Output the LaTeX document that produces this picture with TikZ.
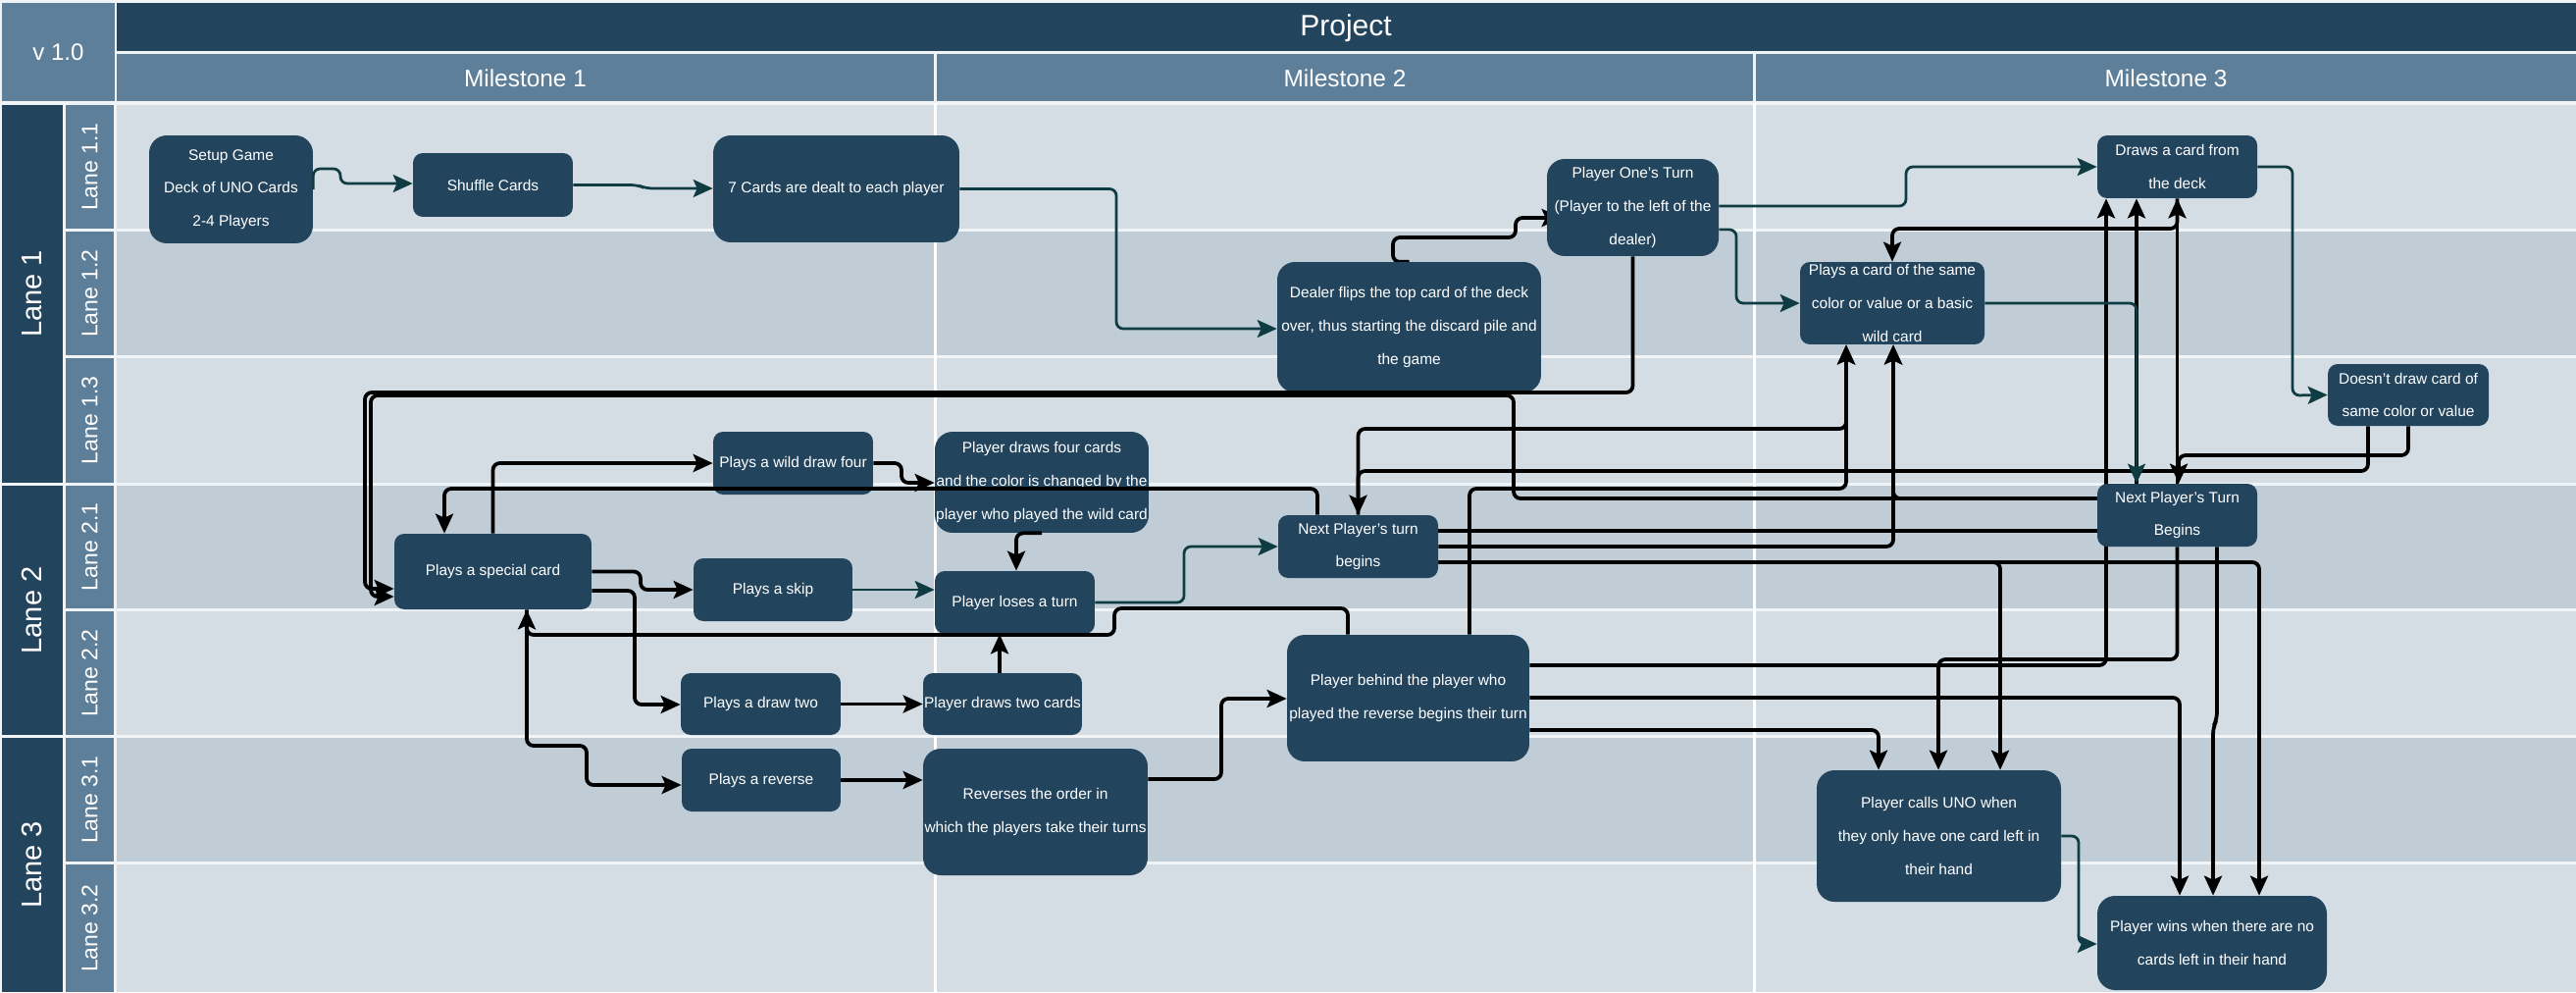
\documentclass[tikz,border=0pt]{standalone}
\usepackage{fontspec}
\setmainfont{Liberation Sans}
\usetikzlibrary{arrows.meta,math}
\pgfdeclarelayer{lanes}
\pgfdeclarelayer{under}
\pgfsetlayers{lanes,under,main}
\definecolor{navy}{HTML}{23445D}
\definecolor{steel}{HTML}{5D7F99}
\definecolor{lanea}{HTML}{D5DDE4}
\definecolor{laneb}{HTML}{C0CDD7}
\definecolor{gap}{HTML}{F1F4F6}
\definecolor{pine}{HTML}{0F3B42}

\begin{document}
\begin{tikzpicture}[x=0.02cm,y=-0.02cm,
    card/.style={fill=navy, text=white, rounded corners=0.2cm, align=center, inner sep=0pt, font=\fontsize{8.8}{19.1}\selectfont},
    big/.style={rounded corners=0.36cm},
    flow/.style={draw=pine, line width=0.055cm, rounded corners=0.14cm, -{Stealth[length=0.4cm,width=0.36cm,inset=0.08cm]}},
    link/.style={draw=black, line width=0.075cm, rounded corners=0.14cm, -{Stealth[length=0.4cm,width=0.36cm,inset=0.08cm]}},
    bare/.style={draw=black, line width=0.075cm, rounded corners=0.14cm},
    lanehead/.style={text=white, rotate=90, font=\fontsize{16.5}{18}\selectfont},
    subhead/.style={text=white, rotate=90, font=\fontsize{13.1}{15}\selectfont}]
  \useasboundingbox (0,0) rectangle (2626,1011);
  \begin{pgfonlayer}{lanes}
    \fill[gap] (0,0) rectangle (2626,1011);
    \fill[steel] (2,3) rectangle (117,103);
    \fill[navy] (119,3) rectangle (2626,52);
    \fill[steel] (119,55) rectangle (952,103);
    \fill[steel] (955,55) rectangle (1787,103);
    \fill[steel] (1790,55) rectangle (2626,103);
    \fill[navy] (2,107) rectangle (64,492);
    \fill[navy] (2,495) rectangle (64,749);
    \fill[navy] (2,752) rectangle (64,1011);
    \fill[steel] (67,107) rectangle (116,233);
    \fill[steel] (67,236) rectangle (116,362);
    \fill[steel] (67,365) rectangle (116,492);
    \fill[steel] (67,495) rectangle (116,620);
    \fill[steel] (67,623) rectangle (116,749);
    \fill[steel] (67,752) rectangle (116,878);
    \fill[steel] (67,881) rectangle (116,1011);
    \fill[lanea] (119,107) rectangle (2626,233);
    \fill[laneb] (119,236) rectangle (2626,362);
    \fill[lanea] (119,365) rectangle (2626,492);
    \fill[laneb] (119,495) rectangle (2626,620);
    \fill[lanea] (119,623) rectangle (2626,749);
    \fill[laneb] (119,752) rectangle (2626,878);
    \fill[lanea] (119,881) rectangle (2626,1011);
    \draw[white, line width=0.045cm] (953.5,105) -- (953.5,1011);
    \draw[white, line width=0.045cm] (1788.5,105) -- (1788.5,1011);
  \end{pgfonlayer}

  \node[text=white, font=\fontsize{13.7}{16}\selectfont] (ver) at (59.5,53) {v 1.0};
  \node[text=white, font=\fontsize{17.1}{20}\selectfont] (proj) at (1372,29) {Project};
  \node[text=white, font=\fontsize{13.9}{16}\selectfont] (ms1) at (535.5,80) {Milestone 1};
  \node[text=white, font=\fontsize{13.9}{16}\selectfont] (ms2) at (1371,80) {Milestone 2};
  \node[text=white, font=\fontsize{13.9}{16}\selectfont] (ms3) at (2208,80) {Milestone 3};
  \node[lanehead] (lane1) at (33,299.5) {Lane 1};
  \node[lanehead] (lane2) at (33,622) {Lane 2};
  \node[lanehead] (lane3) at (33,881.5) {Lane 3};
  \node[subhead] (lane11) at (91.5,170) {Lane 1.1};
  \node[subhead] (lane12) at (91.5,299) {Lane 1.2};
  \node[subhead] (lane13) at (91.5,428.5) {Lane 1.3};
  \node[subhead] (lane21) at (91.5,557.5) {Lane 2.1};
  \node[subhead] (lane22) at (91.5,686) {Lane 2.2};
  \node[subhead] (lane31) at (91.5,815) {Lane 3.1};
  \node[subhead] (lane32) at (91.5,946) {Lane 3.2};

  \node[card, big, minimum width=3.34cm, minimum height=2.2cm] (setup) at (235.5,193) {Setup Game\\Deck of UNO Cards\\2-4 Players};
  \node[card, minimum width=3.26cm, minimum height=1.3cm] (shuffle) at (502.5,188.5) {Shuffle Cards};
  \node[card, big, minimum width=5.02cm, minimum height=2.18cm] (deal) at (852.5,192.5) {7 Cards are dealt to each player};
  \node[card, big, minimum width=5.38cm, minimum height=2.66cm] (flip) at (1436.5,333.5) {Dealer flips the top card of the deck\\over, thus starting the discard pile and\\the game};
  \node[card, big, minimum width=3.5cm, minimum height=1.98cm] (one) at (1664.5,211.5) {Player One's Turn\\(Player to the left of the\\dealer)};
  \node[card, minimum width=3.26cm, minimum height=1.28cm] (draw) at (2219.5,170) {Draws a card from\\the deck};
  \node[card, minimum width=3.76cm, minimum height=1.68cm] (match) at (1929,309) {Plays a card of the same\\color or value or a basic\\wild card};
  \node[card, minimum width=3.28cm, minimum height=1.26cm] (nodraw) at (2455,402.5) {Doesn't draw card of\\same color or value};
  \node[card, minimum width=3.26cm, minimum height=1.28cm] (nextc) at (2219.5,525) {Next Player's Turn\\Begins};
  \node[card, big, minimum width=4.98cm, minimum height=2.68cm] (uno) at (1976.5,852) {Player calls UNO when\\they only have one card left in\\their hand};
  \node[card, big, minimum width=4.68cm, minimum height=1.92cm] (win) at (2255,961) {Player wins when there are no\\cards left in their hand};
  \node[card, minimum width=4.02cm, minimum height=1.54cm] (special) at (502.5,582.5) {Plays a special card};
  \node[card, minimum width=3.26cm, minimum height=1.28cm] (wild) at (808.5,472) {Plays a wild draw four};
  \node[card, big, minimum width=4.36cm, minimum height=2.06cm] (four) at (1062,491.5) {Player draws four cards\\and the color is changed by the\\player who played the wild card};
  \node[card, minimum width=3.24cm, minimum height=1.28cm] (skip) at (788,601) {Plays a skip};
  \node[card, minimum width=3.26cm, minimum height=1.28cm] (lose) at (1034.5,614) {Player loses a turn};
  \node[card, minimum width=3.26cm, minimum height=1.26cm] (drawtwo) at (775.5,717.5) {Plays a draw two};
  \node[card, minimum width=3.24cm, minimum height=1.26cm] (two) at (1022,717.5) {Player draws two cards};
  \node[card, minimum width=3.24cm, minimum height=1.28cm] (reverse) at (776,795) {Plays a reverse};
  \node[card, big, minimum width=4.58cm, minimum height=2.58cm] (order) at (1055.5,827.5) {Reverses the order in\\which the players take their turns};
  \node[card, minimum width=3.26cm, minimum height=1.28cm] (nextb) at (1384.5,557) {Next Player's turn\\begins};
  \node[card, big, minimum width=4.94cm, minimum height=2.58cm] (behind) at (1435.5,711.5) {Player behind the player who\\played the reverse begins their turn};

  \begin{pgfonlayer}{under}
    \draw[link] (behind.east |- 0,678) -| (draw.south -| 2147,0);
    \draw[link, shorten >=-0.3cm] (flip.north) -- (1420,267) |- (1545,242) |- (one.west |- 0,222);
  \end{pgfonlayer}

  \draw[flow] (setup.east) |- (347,172) |- (shuffle.west |- 0,187);
  \draw[flow] (shuffle.east) -- (650,188.5) -- (658,192) -- (deal.west |- 0,192);
  \draw[flow] (deal.east) -| (1138,335) -- (flip.west |- 0,335);
  \draw[flow] (one.east |- 0,210) -| (1943,170) -- (draw.west);
  \draw[flow] (one.east |- 0,234) -| (1770,309) -- (match.west);
  \draw[flow] (draw.east) -| (2337,403) -- (nodraw.west);

  \draw[link] (nextc.north -| 2178,0) -- (draw.south -| 2178,0);
  \draw[link] (nextc.north) -- (draw.south);
  \draw[link] (draw.south) |- (1929,233) -- (match.north);
  \draw[link] (nodraw.south) |- (2221,464) -- (nextc.north -| 2221,0);
  \draw[link] (nodraw.south -| 2414,0) |- (nextb.north |- 0,480) -- (nextb.north);
  \draw[link] (nextb.north) |- (1882,437) -- (match.south -| 1882,0);
  \draw[link] (behind.north -| 1498,0) |- (1882,498) -- (match.south -| 1882,0);
  \draw[link] (nextb.east |- 0,557) -| (match.south -| 1930,0);
  \draw[link] (nextc.west |- 0,508) -| (match.south -| 1930,0);
  \draw[bare] (nextb.east |- 0,541) -- (nextc.west |- 0,541);
  \draw[link] (nextc.west |- 0,508) -| (1543,403) -| (378,608) -- (special.west |- 0,608);
  \draw[link] (one.south) |- (372,400) |- (special.west |- 0,600);
  \draw[link] (nextb.north -| 1343,0) |- (453,498) -- (special.north -| 453,0);
  \draw[link] (special.north) |- (wild.west);
  \draw[link] (wild.east) -| (919,492) -- (four.west |- 0,492);
  \draw[link] (four.south) -| (lose.north -| 1036,0);
  \draw[link] (special.east) -| (653,601) -- (skip.west);
  \draw[link] (special.east |- 0,602) -| (647,718) -- (drawtwo.west |- 0,718);
  \draw[link] (drawtwo.east) -- (two.west);
  \draw[link] (two.north -| 1019,0) -- (lose.south -| 1019,0);
  \draw[link] (behind.north -| 1374,0) |- (1136,620) |- (537,647) -- (special.south -| 537,0);
  \draw[link] (special.south -| 537,0) |- (598,760) |- (reverse.west |- 0,800);
  \draw[link] (reverse.east) -- (order.west |- 0,795);
  \draw[link] (order.east |- 0,794) -| (1245,712) -- (behind.west |- 0,712);
  \draw[link] (behind.east |- 0,711) -| (win.north -| 2222,0);
  \draw[link] (behind.east |- 0,744) -| (uno.north -| 1915,0);
  \draw[link] (nextb.east |- 0,573) -| (uno.north -| 2039,0);
  \draw[link] (nextb.east |- 0,573) -| (win.north -| 2303,0);
  \draw[link] (nextc.south) |- (1976,672) -- (uno.north -| 1976,0);
  \draw[link] (nextc.south -| 2260,0) -- (2260,733) -- (2256,741) -- (win.north -| 2256,0);

  \draw[flow] (match.east) -| (nextc.north -| 2178,0);
  \draw[flow] (skip.east) -- (lose.west |- 0,601);
  \draw[flow] (lose.east) -| (1207,557) -- (nextb.west);
  \draw[flow] (uno.east) -| (2119,962) -- (win.west |- 0,962);
\end{tikzpicture}
\end{document}
